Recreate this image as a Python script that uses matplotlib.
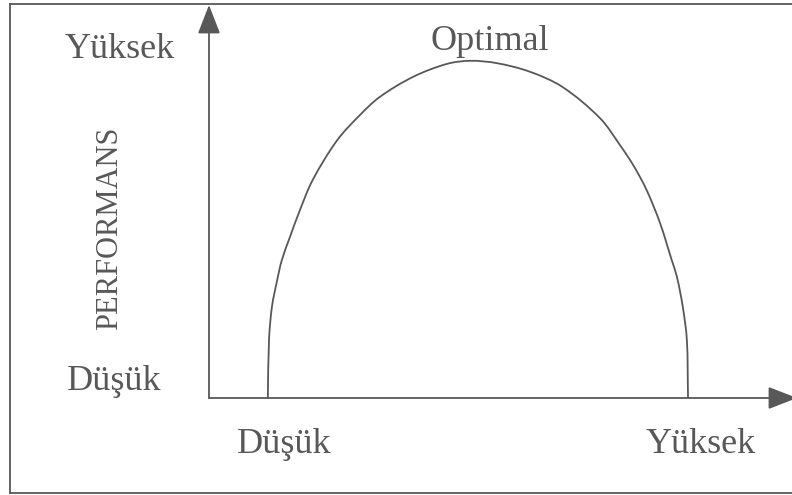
import numpy as np
import matplotlib
matplotlib.use("Agg")
import matplotlib.pyplot as plt
from matplotlib.path import Path
from matplotlib.patches import PathPatch
from matplotlib.lines import Line2D

# stress level (x, 0-100) vs performance (y, 0-100)
stress = [10.1, 10.3, 10.8, 11.7, 12.5, 13.9, 15.6, 17.8, 22.0, 25.9, 29.3, 35.0,
          40.8, 44.8, 49.4, 55.1, 60.7, 67.1, 70.5, 72.9, 75.1, 77.4, 79.4,
          80.3, 81.3, 82.0, 82.2]
performance = [0.0, 14.8, 23.2, 30.0, 35.1, 41.0, 47.8, 55.5, 65.6, 72.0, 76.6, 81.7,
               85.0, 85.8, 85.2, 83.0, 79.1, 71.2, 64.4, 59.0, 52.9, 44.5, 35.1,
               30.8, 23.2, 14.8, 0.0]

y_labels = ["Düşük", "Yüksek"]
x_labels = ["Düşük", "Yüksek"]
y_title = "PERFORMANS"
peak_label = "Optimal"

W, H = 792, 495
ink = "#585858"
plt.rcParams['font.family'] = ['Liberation Serif', 'DejaVu Serif']


def smooth_path(xs, ys, sx=5.83, sy=3.93):
    # smooth cubic through the read points, tangents from chord lengths (in pixels)
    pts = np.column_stack([xs, ys]).astype(float)
    px = pts * [sx, sy]
    n = len(pts)
    d = np.hypot(*np.diff(px, axis=0).T)
    tang = np.zeros_like(px)
    for i in range(n):
        if i == 0:
            tang[i] = (px[1] - px[0]) / d[0]
        elif i == n - 1:
            tang[i] = (px[-1] - px[-2]) / d[-1]
        else:
            tang[i] = (px[i + 1] - px[i - 1]) / (d[i - 1] + d[i])
    verts = [px[0]]
    codes = [Path.MOVETO]
    for i in range(n - 1):
        c1 = px[i] + tang[i] * d[i] / 3
        c2 = px[i + 1] - tang[i + 1] * d[i] / 3
        verts += [c1, c2, px[i + 1]]
        codes += [Path.CURVE4] * 3
    verts = np.array(verts) / [sx, sy]
    return Path(verts, codes)


fig = plt.figure(figsize=(W / 100, H / 100), dpi=100)
fig.patch.set_facecolor("white")

# outer frame (right side runs off the page)
frame = dict(color=ink, lw=1.3, transform=fig.transFigure)
fig.add_artist(Line2D([10 / W, 1.01], [1 - 4 / H, 1 - 4 / H], **frame))
fig.add_artist(Line2D([10 / W, 10 / W], [1 - 4 / H, 1 - 493 / H], **frame))
fig.add_artist(Line2D([10 / W, 1.01], [1 - 493 / H, 1 - 493 / H], **frame))

ax = fig.add_axes([209 / W, (H - 398) / H, 588 / W, 393 / H])
ax.set_xlim(0, 100.9)
ax.set_ylim(0, 100)
ax.axis("off")

arrow = dict(arrowstyle="-|>,head_length=0.9,head_width=0.35", color=ink, lw=1.3,
             shrinkA=0, shrinkB=0, mutation_scale=20)
ax.annotate("", xy=(0, 100), xytext=(0, 0), arrowprops=arrow, annotation_clip=False)
ax.annotate("", xy=(100.9, 0), xytext=(0, 0), arrowprops=arrow, annotation_clip=False)

ax.add_patch(PathPatch(smooth_path(stress, performance), fill=False,
                       edgecolor=ink, lw=1.3, clip_on=False))

txt = dict(color=ink, fontsize=26, ha="center", va="baseline")
fig.text(114 / W, 1 - 390 / H, y_labels[0], **txt)
fig.text(120 / W, 1 - 58 / H, y_labels[1], **txt)
fig.text(284 / W, 1 - 453 / H, x_labels[0], **txt)
fig.text(701 / W, 1 - 453 / H, x_labels[1], **txt)
fig.text(490 / W, 1 - 50 / H, peak_label, **txt)
fig.text(110 / W, 1 - 228 / H, y_title, color=ink, fontsize=22, rotation=90,
         ha="center", va="center")

fig.savefig("out.png", dpi=100, facecolor="white")
